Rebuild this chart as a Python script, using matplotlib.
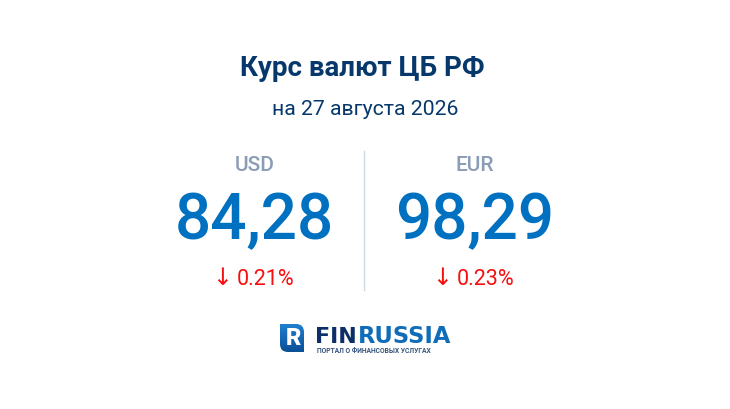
import matplotlib
matplotlib.use("Agg")
import matplotlib.pyplot as plt
import numpy as np
from matplotlib.colors import LinearSegmentedColormap
from matplotlib.patches import PathPatch
from matplotlib.path import Path

plt.rcParams['font.family'] = ['Roboto', 'DejaVu Sans']

title = "Курс валют ЦБ РФ"
subtitle = "на 27 августа 2026"
currencies = ["USD", "EUR"]
rates = ["84,28", "98,29"]
changes = ["0.21%", "0.23%"]

NAVY = "#07386b"
BLUE = "#0070c0"
GREY = "#8a9db5"
RED = "#f50f0f"

fig = plt.figure(figsize=(7.3, 4.1), dpi=100, facecolor="white")
ax = fig.add_axes([0, 0, 1, 1])

ax.text(362, 68.5, title, ha="center", va="center", fontsize=20, fontweight="bold", color=NAVY)
ax.text(365, 109.5, subtitle, ha="center", va="center", fontsize=15.3, color=NAVY)

# divider
ax.plot([364, 364], [152, 291], color="#cfd8e2", lw=1)

centers = [254.5, 474.5]
for cx, cur, rate, chg in zip(centers, currencies, rates, changes):
    ax.text(cx, 166, cur, ha="center", va="center", fontsize=15, fontweight="medium", color=GREY)
    ax.text(cx, 221.5, rate, ha="center", va="center", fontsize=46, fontweight="medium", color=BLUE)
    ax.text(cx - 32, 279, "↓", ha="center", va="center", fontsize=17, color=RED)
    ax.text(cx + 11, 280, chg, ha="center", va="center", fontsize=15.5, color=RED)

# logo icon: square top-left and bottom-right, round on the other two corners
verts = [(280, 325), (296, 325), (304, 325), (304, 333), (304, 353), (288, 353),
         (280, 353), (280, 345), (280, 325)]
codes = [Path.MOVETO, Path.LINETO, Path.CURVE3, Path.CURVE3, Path.LINETO, Path.LINETO,
         Path.CURVE3, Path.CURVE3, Path.CLOSEPOLY]
icon = PathPatch(Path(verts, codes), fc="none", ec="none")
ax.add_patch(icon)
grad = np.linspace(0, 1, 64).reshape(-1, 1)
logo_cmap = LinearSegmentedColormap.from_list("logo", ["#1f7fd0", "#0b4f96"])
img = ax.imshow(grad, extent=(280, 304, 353, 325), cmap=logo_cmap, aspect="auto", zorder=2)
img.set_clip_path(icon)
ax.text(293, 339, "R", ha="center", va="center", fontsize=17, fontweight="black", color="white", zorder=3)

# logo text
ax.text(315, 343.5, "FIN", ha="left", va="baseline", fontsize=16, fontweight="bold",
        family="DejaVu Sans", color="#0b2f66")
ax.text(358, 343.5, "RUSSIA", ha="left", va="baseline", fontsize=16.3, fontweight="bold",
        family="DejaVu Sans", color="#0f6cb8")
ax.text(374, 353, "ПОРТАЛ О ФИНАНСОВЫХ УСЛУГАХ", ha="center", va="baseline", fontsize=4.9,
        fontweight="bold", color="#36557f")

ax.set_xlim(0, 730)
ax.set_ylim(410, 0)
ax.axis("off")

fig.savefig("out.png", dpi=100, facecolor="white")
